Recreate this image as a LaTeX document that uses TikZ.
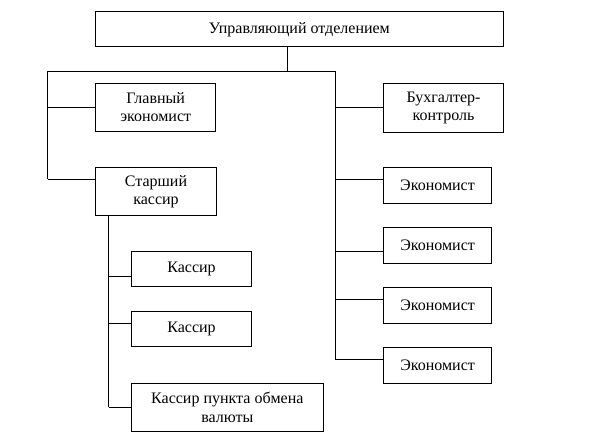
\documentclass[tikz,border=0pt]{standalone}
\usepackage{fontspec}
\setmainfont{Liberation Serif}
\begin{document}
\begin{tikzpicture}[x=0.75pt,y=-0.75pt,line width=0.75pt,
  box/.style={draw,inner sep=0pt,align=center,font=\fontsize{12}{13.6}\selectfont},
  conn/.style={draw}]
\useasboundingbox (0,0) rectangle (612,444);
% boxes
\node[box,minimum width=305.85pt,minimum height=26.5pt] (top) at (299.4,29.3) {Управляющий отделением};
\node[box,minimum width=90pt,minimum height=36pt] (glav) at (155.7,107.3) {Главный\\экономист};
\node[box,minimum width=90.4pt,minimum height=36pt] (star) at (156,191.3) {Старший\\кассир};
\node[box,minimum width=89.7pt,minimum height=36.7pt] (buh) at (443.5,107.8) {Бухгалтер-\\контроль};
\node[box,minimum width=80.7pt,minimum height=26.8pt] (ek1) at (437.5,185.2) {Экономист};
\node[box,minimum width=80.7pt,minimum height=26.8pt] (ek2) at (437.6,245.6) {Экономист};
\node[box,minimum width=80.7pt,minimum height=26.8pt] (ek3) at (437.6,305.3) {Экономист};
\node[box,minimum width=80.7pt,minimum height=26.8pt] (ek4) at (437.6,365.2) {Экономист};
\node[box,minimum width=90.3pt,minimum height=26.5pt] (k1) at (191.5,269.3) {Кассир};
\node[box,minimum width=90.3pt,minimum height=26.5pt] (k2) at (191.5,329.3) {Кассир};
\node[box,minimum width=144pt,minimum height=36pt] (kp) at (227.3,407.3) {Кассир пункта обмена\\валюты};
% junction coordinates
\coordinate (tj) at (287,71);
\coordinate (L0) at (47.7,71);
\coordinate (L1) at (47.7,107.3);
\coordinate (L2) at (47.7,179);
\coordinate (R0) at (335,71);
\coordinate (R1) at (335,107.8);
\coordinate (R2) at (335,179);
\coordinate (R3) at (335,251.7);
\coordinate (R4) at (335,299.3);
\coordinate (R5) at (335,359);
\coordinate (K0) at (108.7,215.3);
\coordinate (K1) at (108.7,276);
\coordinate (K2) at (108.7,323.3);
\coordinate (K3) at (108.7,407.3);
% connectors
\draw[conn] (tj |- top.south) -- (tj);
\draw[conn] (L0) -- (R0);
\draw[conn] (L0) -- (L2);
\draw[conn] (L1) -- (glav.west);
\draw[conn] (L2) -- (L2 -| star.west);
\draw[conn] (R0) -- (R5);
\draw[conn] (R1) -- (buh.west);
\draw[conn] (R2) -- (R2 -| ek1.west);
\draw[conn] (R3) -- (R3 -| ek2.west);
\draw[conn] (R4) -- (R4 -| ek3.west);
\draw[conn] (R5) -- (R5 -| ek4.west);
\draw[conn] (K0 |- star.south) -- (K3);
\draw[conn] (K1) -- (K1 -| k1.west);
\draw[conn] (K2) -- (K2 -| k2.west);
\draw[conn] (K3) -- (kp.west);
\end{tikzpicture}
\end{document}
